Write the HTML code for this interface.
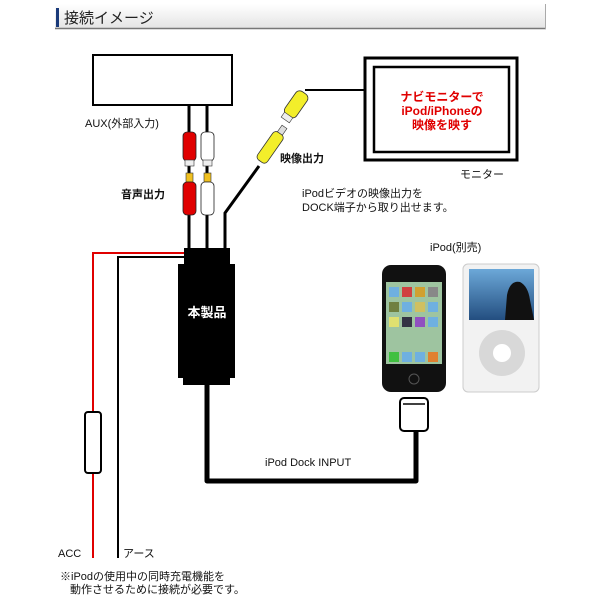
<!DOCTYPE html>
<html><head><meta charset="utf-8"><style>
html,body{margin:0;padding:0;background:#fff;}
svg{display:block;}
text{font-family:"Liberation Sans","Noto Sans CJK JP",sans-serif;}
</style></head><body>
<svg width="600" height="600" viewBox="0 0 600 600" xmlns="http://www.w3.org/2000/svg">
<defs>
<linearGradient id="hdr" x1="0" y1="0" x2="0" y2="1"><stop offset="0" stop-color="#ffffff"/><stop offset="1" stop-color="#e4e4e4"/></linearGradient>
<linearGradient id="ipscr" x1="0" y1="0" x2="0" y2="1"><stop offset="0" stop-color="#6ca8d8"/><stop offset="1" stop-color="#234e80"/></linearGradient>
</defs>
<rect x="55" y="4" width="491" height="24" fill="url(#hdr)"/>
<line x1="55" y1="28.5" x2="546" y2="28.5" stroke="#777" stroke-width="1.5"/>
<line x1="545.5" y1="4" x2="545.5" y2="29" stroke="#aaa" stroke-width="1"/>
<rect x="56" y="8" width="3" height="19" fill="#1a3a7a"/>
<text x="64" y="23" font-size="15" fill="#222">接続イメージ</text>

<rect x="93" y="55" width="139" height="50" fill="#fff" stroke="#000" stroke-width="2"/>
<line x1="189" y1="105" x2="189" y2="250" stroke="#000" stroke-width="3"/>
<line x1="207" y1="105" x2="207" y2="250" stroke="#000" stroke-width="3"/>
<rect x="183" y="132" width="13" height="29" rx="4" fill="#e00000" stroke="#222" stroke-width="0.8"/>
<rect x="185" y="160" width="9" height="6" fill="#eee" stroke="#333" stroke-width="0.6"/>
<rect x="201" y="132" width="13" height="29" rx="4" fill="#fff" stroke="#222" stroke-width="0.8"/>
<rect x="203" y="160" width="9" height="6" fill="#eee" stroke="#333" stroke-width="0.6"/>
<rect x="186" y="173" width="7" height="9" fill="#f0c020" stroke="#333" stroke-width="0.6"/>
<rect x="183" y="182" width="13" height="33" rx="4" fill="#e00000" stroke="#222" stroke-width="0.8"/>
<rect x="204" y="173" width="7" height="9" fill="#f0c020" stroke="#333" stroke-width="0.6"/>
<rect x="201" y="182" width="13" height="33" rx="4" fill="#fff" stroke="#222" stroke-width="0.8"/>
<polyline points="225,250 225,213 259,166" fill="none" stroke="#000" stroke-width="3"/>
<line x1="305" y1="90" x2="364" y2="90" stroke="#000" stroke-width="2"/>
<g transform="translate(269,149) rotate(35)">
<rect x="-6" y="-19" width="12" height="34" rx="4" fill="#f3ee2a" stroke="#333" stroke-width="0.8"/>
<rect x="-3" y="-27" width="6" height="8" fill="#ddd" stroke="#333" stroke-width="0.6"/>
</g>
<g transform="translate(295,106) rotate(35)">
<rect x="-7" y="-16" width="14" height="28" rx="5" fill="#f3ee2a" stroke="#333" stroke-width="0.8"/>
<rect x="-5" y="11" width="10" height="6" fill="#eee" stroke="#333" stroke-width="0.6"/>
</g>
<text x="85" y="127" font-size="11" fill="#111">AUX(外部入力)</text>
<text x="121" y="198" font-size="11" font-weight="bold" fill="#111">音声出力</text>
<text x="280" y="162" font-size="11" font-weight="bold" fill="#111">映像出力</text>

<rect x="365" y="58" width="152" height="102" fill="#fff" stroke="#000" stroke-width="3"/>
<rect x="374" y="67" width="135" height="85" fill="#fff" stroke="#000" stroke-width="2.5"/>
<text x="442" y="101" font-size="12" font-weight="bold" fill="#e00000" text-anchor="middle">ナビモニターで</text>
<text x="442" y="115" font-size="12" font-weight="bold" fill="#e00000" text-anchor="middle">iPod/iPhoneの</text>
<text x="442" y="129" font-size="12" font-weight="bold" fill="#e00000" text-anchor="middle">映像を映す</text>
<text x="460" y="178" font-size="11" fill="#111">モニター</text>
<text x="302" y="197" font-size="11" fill="#111">iPodビデオの映像出力を</text>
<text x="302" y="211" font-size="11" fill="#111">DOCK端子から取り出せます。</text>
<text x="430" y="251" font-size="11" fill="#111">iPod(別売)</text>

<rect x="184" y="248" width="46" height="20" fill="#000"/>
<rect x="178" y="264" width="57" height="114" fill="#000"/>
<rect x="183" y="375" width="47" height="10" fill="#000"/>
<text x="207" y="317" font-size="13" font-weight="bold" fill="#fff" text-anchor="middle">本製品</text>
<polyline points="184,253 93,253 93,558" fill="none" stroke="#e00000" stroke-width="2"/>
<polyline points="184,257 118,257 118,558" fill="none" stroke="#000" stroke-width="2"/>
<rect x="85" y="412" width="16" height="61" rx="3" fill="#fff" stroke="#000" stroke-width="2"/>
<text x="58" y="557" font-size="11" fill="#111">ACC</text>
<text x="123" y="557" font-size="11" fill="#111">アース</text>
<text x="60" y="580" font-size="11" fill="#111">※iPodの使用中の同時充電機能を</text>
<text x="70" y="593" font-size="11" fill="#111">動作させるために接続が必要です。</text>

<polyline points="207,385 207,481 416,481 416,430" fill="none" stroke="#000" stroke-width="5" stroke-linejoin="round"/>
<rect x="400" y="398" width="28" height="33" rx="4" fill="#fff" stroke="#000" stroke-width="2"/>
<line x1="403" y1="404" x2="425" y2="404" stroke="#000" stroke-width="1.5"/>
<text x="265" y="466" font-size="11" fill="#111">iPod Dock INPUT</text>

<rect x="382" y="265" width="64" height="127" rx="9" fill="#111"/>
<rect x="386" y="282" width="56" height="82" fill="#9ec4a0"/>
<g fill="#6fb0e0"><rect x="389" y="287" width="10" height="10"/><rect x="402" y="287" width="10" height="10" fill="#d04040"/><rect x="415" y="287" width="10" height="10" fill="#d0a030"/><rect x="428" y="287" width="10" height="10" fill="#888"/>
<rect x="389" y="302" width="10" height="10" fill="#708040"/><rect x="402" y="302" width="10" height="10"/><rect x="415" y="302" width="10" height="10" fill="#d0c060"/><rect x="428" y="302" width="10" height="10"/>
<rect x="389" y="317" width="10" height="10" fill="#e0e070"/><rect x="402" y="317" width="10" height="10" fill="#334"/><rect x="415" y="317" width="10" height="10" fill="#9050c0"/><rect x="428" y="317" width="10" height="10"/>
<rect x="389" y="352" width="10" height="10" fill="#40c040"/><rect x="402" y="352" width="10" height="10"/><rect x="415" y="352" width="10" height="10"/><rect x="428" y="352" width="10" height="10" fill="#e08030"/></g>
<circle cx="414" cy="379" r="5" fill="none" stroke="#555" stroke-width="1"/>
<rect x="463" y="264" width="76" height="128" rx="5" fill="#f2f2f2" stroke="#ccc" stroke-width="1"/>
<rect x="469" y="269" width="65" height="51" fill="url(#ipscr)"/>
<path d="M505,320 L507,295 Q510,280 520,282 Q528,286 530,300 L534,320 Z" fill="#111"/>
<circle cx="502" cy="353" r="23" fill="#d8d8d8"/>
<circle cx="502" cy="353" r="9" fill="#fff"/>
</svg>
</body></html>
